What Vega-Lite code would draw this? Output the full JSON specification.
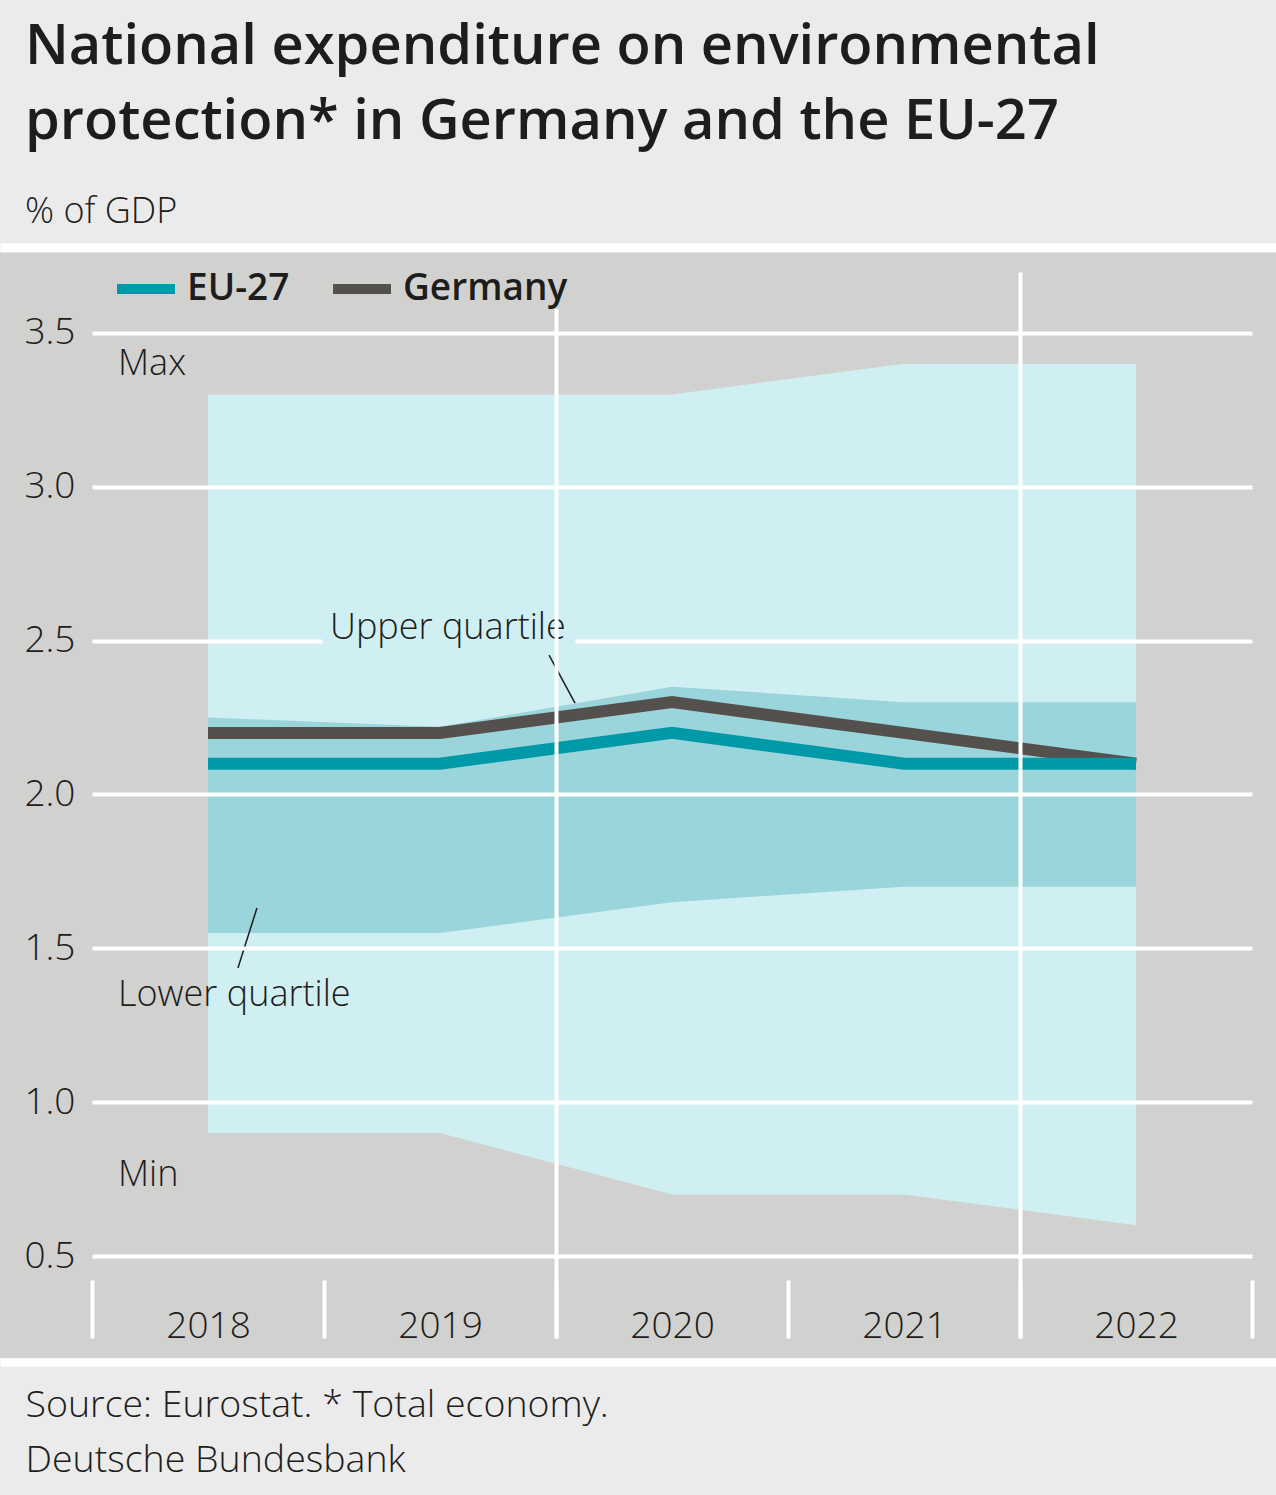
{
  "$schema": "https://vega.github.io/schema/vega-lite/v6.json",
  "autosize": {"type": "none"},
  "width": 1276,
  "height": 1106,
  "padding": {"left": 0, "top": 252, "right": 0, "bottom": 137},
  "background": "#ebebeb",
  "config": {
    "font": "Open Sans",
    "view": {"fill": "#d1d1d0", "stroke": null}
  },
  "title": {
    "text": ["National expenditure on environmental", "protection* in Germany and the EU-27"],
    "subtitle": "% of GDP",
    "anchor": "start",
    "frame": "group",
    "dx": 25,
    "offset": 17,
    "fontSize": 56,
    "fontWeight": 600,
    "lineHeight": 75,
    "color": "#1d1d1b",
    "subtitleFontSize": 36,
    "subtitleFontWeight": 300,
    "subtitleColor": "#1d1d1b",
    "subtitlePadding": 44
  },
  "datasets": {
    "bands": [
      {"year": 2018, "min": 0.9, "q1": 1.55, "q3": 2.25, "max": 3.3},
      {"year": 2019, "min": 0.9, "q1": 1.55, "q3": 2.22, "max": 3.3},
      {"year": 2020, "min": 0.7, "q1": 1.65, "q3": 2.35, "max": 3.3},
      {"year": 2021, "min": 0.7, "q1": 1.7, "q3": 2.3, "max": 3.4},
      {"year": 2022, "min": 0.6, "q1": 1.7, "q3": 2.3, "max": 3.4}
    ],
    "lines": [
      {"year": 2018, "series": "Germany", "value": 2.2},
      {"year": 2019, "series": "Germany", "value": 2.2},
      {"year": 2020, "series": "Germany", "value": 2.3},
      {"year": 2021, "series": "Germany", "value": 2.2},
      {"year": 2022, "series": "Germany", "value": 2.1},
      {"year": 2018, "series": "EU-27", "value": 2.1},
      {"year": 2019, "series": "EU-27", "value": 2.1},
      {"year": 2020, "series": "EU-27", "value": 2.2},
      {"year": 2021, "series": "EU-27", "value": 2.1},
      {"year": 2022, "series": "EU-27", "value": 2.1}
    ],
    "notes": [
      {"label": "Max", "x": 2017.612, "y": 3.362},
      {"label": "Upper quartile", "x": 2018.526, "y": 2.505},
      {"label": "Lower quartile", "x": 2017.612, "y": 1.314},
      {"label": "Min", "x": 2017.612, "y": 0.729}
    ],
    "leaders": [
      {"x": 2019.47, "x2": 2019.582, "y": 2.453, "y2": 2.297},
      {"x": 2018.211, "x2": 2018.129, "y": 1.631, "y2": 1.436}
    ]
  },
  "resolve": {"axis": {"x": "independent", "y": "independent"}},
  "layer": [
    {
      "data": {"name": "bands"},
      "mark": {"type": "area", "color": "#d0eff2"},
      "encoding": {
        "x": {
          "field": "year", "type": "quantitative",
          "scale": {"domain": [2017.1034, 2022.6034], "nice": false, "zero": false},
          "axis": {
            "orient": "bottom", "offset": 4,
            "values": [2018, 2019, 2020, 2021, 2022], "format": "d",
            "ticks": false, "grid": false,
            "domain": true, "domainColor": "white", "domainWidth": 8,
            "labelPadding": -36, "labelBaseline": "middle",
            "labelFontSize": 37, "labelFontWeight": 300, "labelColor": "#1d1d1b",
            "labelFlush": false, "labelOverlap": false,
            "title": ["Source: Eurostat. * Total economy.", "Deutsche Bundesbank"],
            "titleX": 25, "titleY": 24, "titleAlign": "left", "titleAnchor": "start",
            "titleBaseline": "top", "titleFontSize": 37.5, "titleFontWeight": 300,
            "titleColor": "#1d1d1b", "titleLineHeight": 55,
            "zindex": 1
          }
        },
        "y": {
          "field": "min", "type": "quantitative",
          "scale": {"domain": [0.1685, 3.763], "nice": false, "zero": false},
          "axis": {
            "orient": "left", "offset": -92,
            "values": [0.5, 1, 1.5, 2, 3, 3.5], "format": ".1f",
            "domain": false, "grid": false, "ticks": true,
            "tickSize": -1160, "tickColor": "white", "tickWidth": 4,
            "labelPadding": 1177,
            "labelFontSize": 37, "labelFontWeight": 300, "labelColor": "#1d1d1b",
            "title": null, "zindex": 1
          }
        },
        "y2": {"field": "max"}
      }
    },
    {
      "data": {"name": "bands"},
      "mark": {"type": "area", "color": "#9bd5dc"},
      "encoding": {
        "x": {
          "field": "year", "type": "quantitative",
          "scale": {"domain": [2017.1034, 2022.6034], "nice": false, "zero": false},
          "axis": {
            "orient": "bottom", "offset": -20,
            "values": [2017.5, 2018.5, 2019.5, 2020.5, 2021.5, 2022.5],
            "labels": false, "domain": false, "grid": false, "ticks": true,
            "tickSize": -58, "tickColor": "white", "tickWidth": 4,
            "title": null, "zindex": 1
          }
        },
        "y": {
          "field": "q1", "type": "quantitative",
          "scale": {"domain": [0.1685, 3.763], "nice": false, "zero": false},
          "axis": {
            "orient": "left", "offset": -92,
            "values": [2.5], "format": ".1f",
            "domain": false, "grid": false, "ticks": true,
            "tickSize": -230, "tickColor": "white", "tickWidth": 4,
            "labelPadding": 247,
            "labelFontSize": 37, "labelFontWeight": 300, "labelColor": "#1d1d1b",
            "title": null, "zindex": 1
          }
        },
        "y2": {"field": "q3"}
      }
    },
    {
      "data": {"name": "lines"},
      "mark": {"type": "line", "strokeWidth": 12, "strokeJoin": "miter", "strokeCap": "butt"},
      "encoding": {
        "x": {
          "field": "year", "type": "quantitative",
          "scale": {"domain": [2017.1034, 2022.6034], "nice": false, "zero": false},
          "axis": {
            "orient": "bottom", "offset": -20,
            "values": [2019.5, 2021.5],
            "labels": false, "domain": false, "grid": false, "ticks": true,
            "tickSize": -1066, "tickColor": "white", "tickWidth": 4,
            "title": null, "zindex": 1
          }
        },
        "y": {
          "field": "value", "type": "quantitative",
          "scale": {"domain": [0.1685, 3.763], "nice": false, "zero": false},
          "axis": {
            "orient": "left", "offset": -575,
            "values": [2.5],
            "domain": false, "grid": false, "ticks": true, "labels": false,
            "tickSize": -677, "tickColor": "white", "tickWidth": 4,
            "title": null, "zindex": 1
          }
        },
        "color": {
          "field": "series", "type": "nominal",
          "scale": {"domain": ["EU-27", "Germany"], "range": ["#0099a8", "#54504d"]},
          "legend": {
            "orient": "none", "legendX": 112, "legendY": 3,
            "direction": "horizontal", "title": null,
            "symbolType": "stroke", "symbolStrokeWidth": 10, "symbolSize": 3364,
            "labelFontSize": 37, "labelFontWeight": 600, "labelColor": "#1d1d1b",
            "labelOffset": 7, "columnPadding": 23, "labelLimit": 400,
            "fillColor": "#d1d1d0", "padding": 0, "zindex": 2
          }
        }
      }
    },
    {
      "data": {"name": "notes"},
      "mark": {"type": "text", "align": "left", "baseline": "alphabetic", "fontSize": 36, "fontWeight": 300, "color": "#1d1d1b"},
      "encoding": {
        "x": {
          "field": "x", "type": "quantitative",
          "scale": {"domain": [2017.1034, 2022.6034], "nice": false, "zero": false},
          "axis": {
            "orient": "top", "offset": 4.5,
            "labels": false, "ticks": false, "grid": false,
            "domain": true, "domainColor": "white", "domainWidth": 9,
            "title": null, "zindex": 1
          }
        },
        "y": {
          "field": "y", "type": "quantitative",
          "scale": {"domain": [0.1685, 3.763], "nice": false, "zero": false},
          "axis": null
        },
        "text": {"field": "label"}
      }
    },
    {
      "data": {"name": "leaders"},
      "mark": {"type": "rule", "color": "#1d1d1b", "strokeWidth": 1.5},
      "encoding": {
        "x": {
          "field": "x", "type": "quantitative",
          "scale": {"domain": [2017.1034, 2022.6034], "nice": false, "zero": false},
          "axis": null
        },
        "x2": {"field": "x2"},
        "y": {
          "field": "y", "type": "quantitative",
          "scale": {"domain": [0.1685, 3.763], "nice": false, "zero": false},
          "axis": null
        },
        "y2": {"field": "y2"}
      }
    }
  ]
}
